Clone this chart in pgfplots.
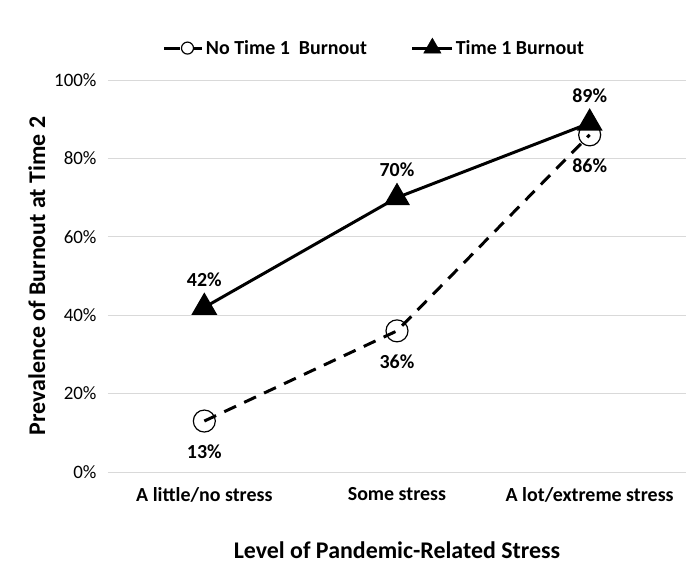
\documentclass[border=0pt]{standalone}
\usepackage{pgfplots}
\pgfplotsset{compat=1.18}
\usepackage{fontspec}
\setmainfont{Carlito}
\begin{document}
\begin{tikzpicture}
\path[use as bounding box] (-108bp,-111bp) rectangle (583bp,472bp);
\begin{axis}[
  at={(0,0)}, anchor=south west,
  scale only axis, width=578bp, height=392bp,
  xmin=-0.5, xmax=2.5, ymin=0, ymax=100,
  axis line style={draw=none},
  ytick={0,20,...,100}, yticklabel={\pgfmathprintnumber{\tick}\%},
  /pgf/number format/assume math mode=true,
  xtick={0,1,2}, xticklabels={A little/no stress, Some stress, A lot/extreme stress},
  major tick length=0pt,
  ymajorgrids, grid style={draw=black!15, line width=0.8pt},
  yticklabel style={font=\fontsize{19}{22}\selectfont, xshift=-8bp},
  xticklabel style={font=\bfseries\fontsize{20}{24}\selectfont, yshift=-12bp},
  xlabel={Level of Pandemic-Related Stress},
  ylabel={Prevalence of Burnout at Time 2},
  xlabel style={font=\bfseries\fontsize{24}{28}\selectfont, yshift=-32bp},
  ylabel style={font=\bfseries\fontsize{24}{28}\selectfont, yshift=2bp},
  legend columns=2,
  legend style={draw=none, fill=none, at={(0.461,1)}, anchor=south, yshift=20bp,
    font=\bfseries\fontsize{20}{24}\selectfont, /tikz/every even column/.append style={column sep=42bp}},
  clip=false,
  nodes near coords, point meta=explicit symbolic,
  every node near coord/.append style={font=\bfseries\fontsize{20}{24}\selectfont, inner sep=0pt},
]
\addplot[black, line width=3pt, dash pattern=on 13bp off 9bp, mark=o, mark size=11bp,
  mark options={solid, line width=1.2pt},
  nodes near coords align=below, every node near coord/.append style={yshift=-23bp},
  forget plot]
  coordinates {(0,13)[13\%] (1,36)[36\%] (2,86)[86\%]};
\addplot[black, line width=3pt, mark=triangle*, mark size=12bp, mark options={solid},
  nodes near coords align=above, every node near coord/.append style={yshift=19bp},
  forget plot]
  coordinates {(0,42)[42\%] (1,70)[70\%] (2,89)[89\%]};
\addlegendimage{legend image code/.code={
  \draw[black, line width=3pt] (0bp,0bp) -- (16bp,0bp);
  \draw[black, line width=3pt] (30bp,0bp) -- (38bp,0bp);
  \draw[black, line width=1.2pt, fill=white] (23bp,0bp) circle (6bp);}}
\addlegendentry{No Time 1\ \ Burnout}
\addlegendimage{legend image code/.code={
  \draw[black, line width=3pt] (0bp,0bp) -- (40bp,0bp);
  \fill[black] (20bp,0bp) +(90:10bp) -- +(210:10bp) -- +(330:10bp) -- cycle;}}
\addlegendentry{Time 1 Burnout}
\end{axis}
\end{tikzpicture}
\end{document}
